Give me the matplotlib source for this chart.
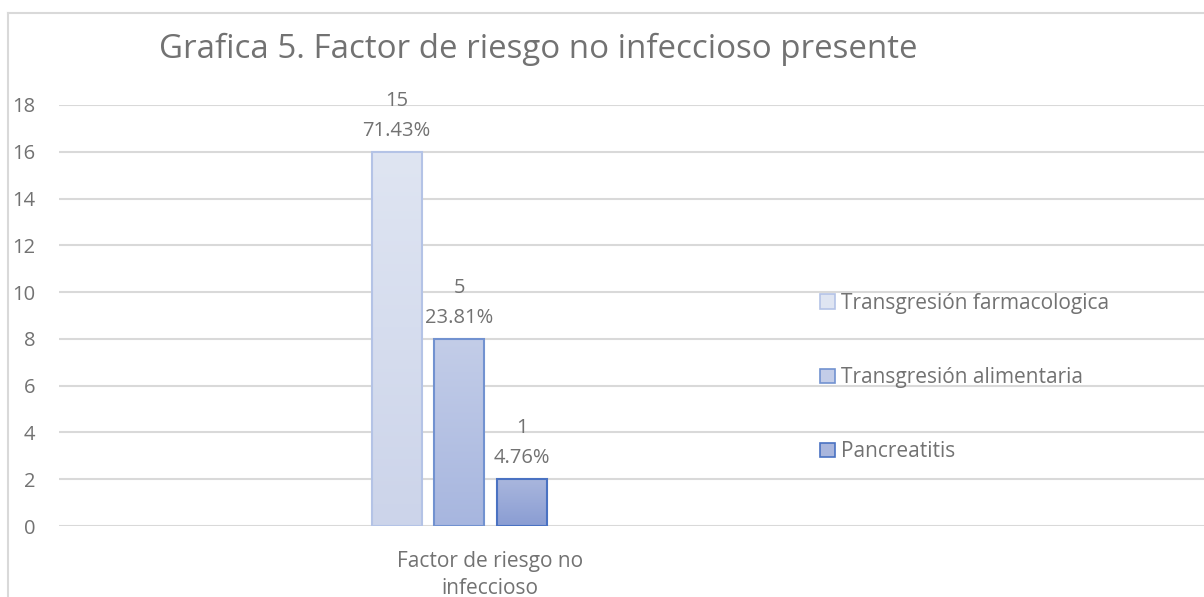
import numpy as np
import matplotlib.pyplot as plt
from matplotlib.patches import Rectangle
from matplotlib.colors import LinearSegmentedColormap
from matplotlib.lines import Line2D

plt.rcParams['font.family'] = ['Open Sans', 'DejaVu Sans']

# data
title = 'Grafica 5. Factor de riesgo no infeccioso presente'
category = 'Factor de riesgo no\ninfeccioso'
series = ['Transgresión farmacologica', 'Transgresión alimentaria', 'Pancreatitis']
heights = [16, 8, 2]
counts = [15, 5, 1]
percents = [71.43, 23.81, 4.76]

# styles (top colour, bottom colour, edge)
tops = ['#dfe5f2', '#c3cde8', '#a9b6dd']
bottoms = ['#ccd4ea', '#a7b6df', '#8a9dd3']
edges = ['#b4c3e6', '#7292d0', '#4a72c2']
text_col = '#727272'
grid_col = '#d9d9d9'

fig = plt.figure(figsize=(12.04, 5.97), dpi=100)
ax = fig.add_axes([59 / 1204, 71 / 597, 1 - 59 / 1204, 421 / 597])

width = 0.8
xs = np.arange(len(heights)) - 1
for x, h, t, b, e in zip(xs, heights, tops, bottoms, edges):
    rect = Rectangle((x - width / 2, 0), width, h, facecolor='none',
                     edgecolor=e, linewidth=1.5, zorder=3)
    ax.add_patch(rect)
    cmap = LinearSegmentedColormap.from_list('g', [b, t])
    grad = np.linspace(0, 1, 100).reshape(-1, 1)
    im = ax.imshow(grad, cmap=cmap, origin='lower', aspect='auto',
                   extent=(x - width / 2, x + width / 2, 0, h), zorder=2)
    im.set_clip_path(rect)

for x, h, c, p in zip(xs, heights, counts, percents):
    ax.text(x, h + 0.48, f'{c}\n{p:.2f}%', ha='center', va='bottom',
            fontsize=14.5, color=text_col, linespacing=1.65)

ax.set_xlim(-6.4, 11.92)
ax.set_ylim(0, 18)
ax.set_yticks(np.arange(0, 19, 2))
ax.set_xticks([0.5])
ax.set_xticklabels([category], linespacing=1.4)
ax.tick_params(axis='both', length=0, labelsize=14.5, labelcolor=text_col)
ax.tick_params(axis='x', labelsize=15, pad=18)
ax.tick_params(axis='y', pad=17)
ax.grid(axis='y', color=grid_col, linewidth=1.5, zorder=0)
ax.set_axisbelow(True)
for s in ax.spines.values():
    s.set_visible(False)

handles = [Rectangle((0, 0), 1, 1, facecolor=t, edgecolor=e, linewidth=1.2)
           for t, e in zip(tops, edges)]
leg = fig.legend(handles, series, loc='upper left',
                 bbox_to_anchor=(820 / 1204, 1 - 293 / 597), frameon=False,
                 fontsize=15, labelspacing=2.55, handlelength=0.7,
                 handleheight=0.7, handletextpad=0.3, labelcolor=text_col,
                 borderpad=0, borderaxespad=0)

fig.text(0.5 * (161 + 915) / 1204, 1 - 49 / 597, title, ha='center',
         va='center', fontsize=23.8, color=text_col)

# chart frame (cropped on the right and bottom)
fig.add_artist(Line2D([8 / 1204, 8 / 1204], [0, 1 - 13 / 597],
                      transform=fig.transFigure, color=grid_col, linewidth=1.5))
fig.add_artist(Line2D([8 / 1204, 1], [1 - 13 / 597, 1 - 13 / 597],
                      transform=fig.transFigure, color=grid_col, linewidth=1.5))

fig.savefig('out.png', dpi=100)
